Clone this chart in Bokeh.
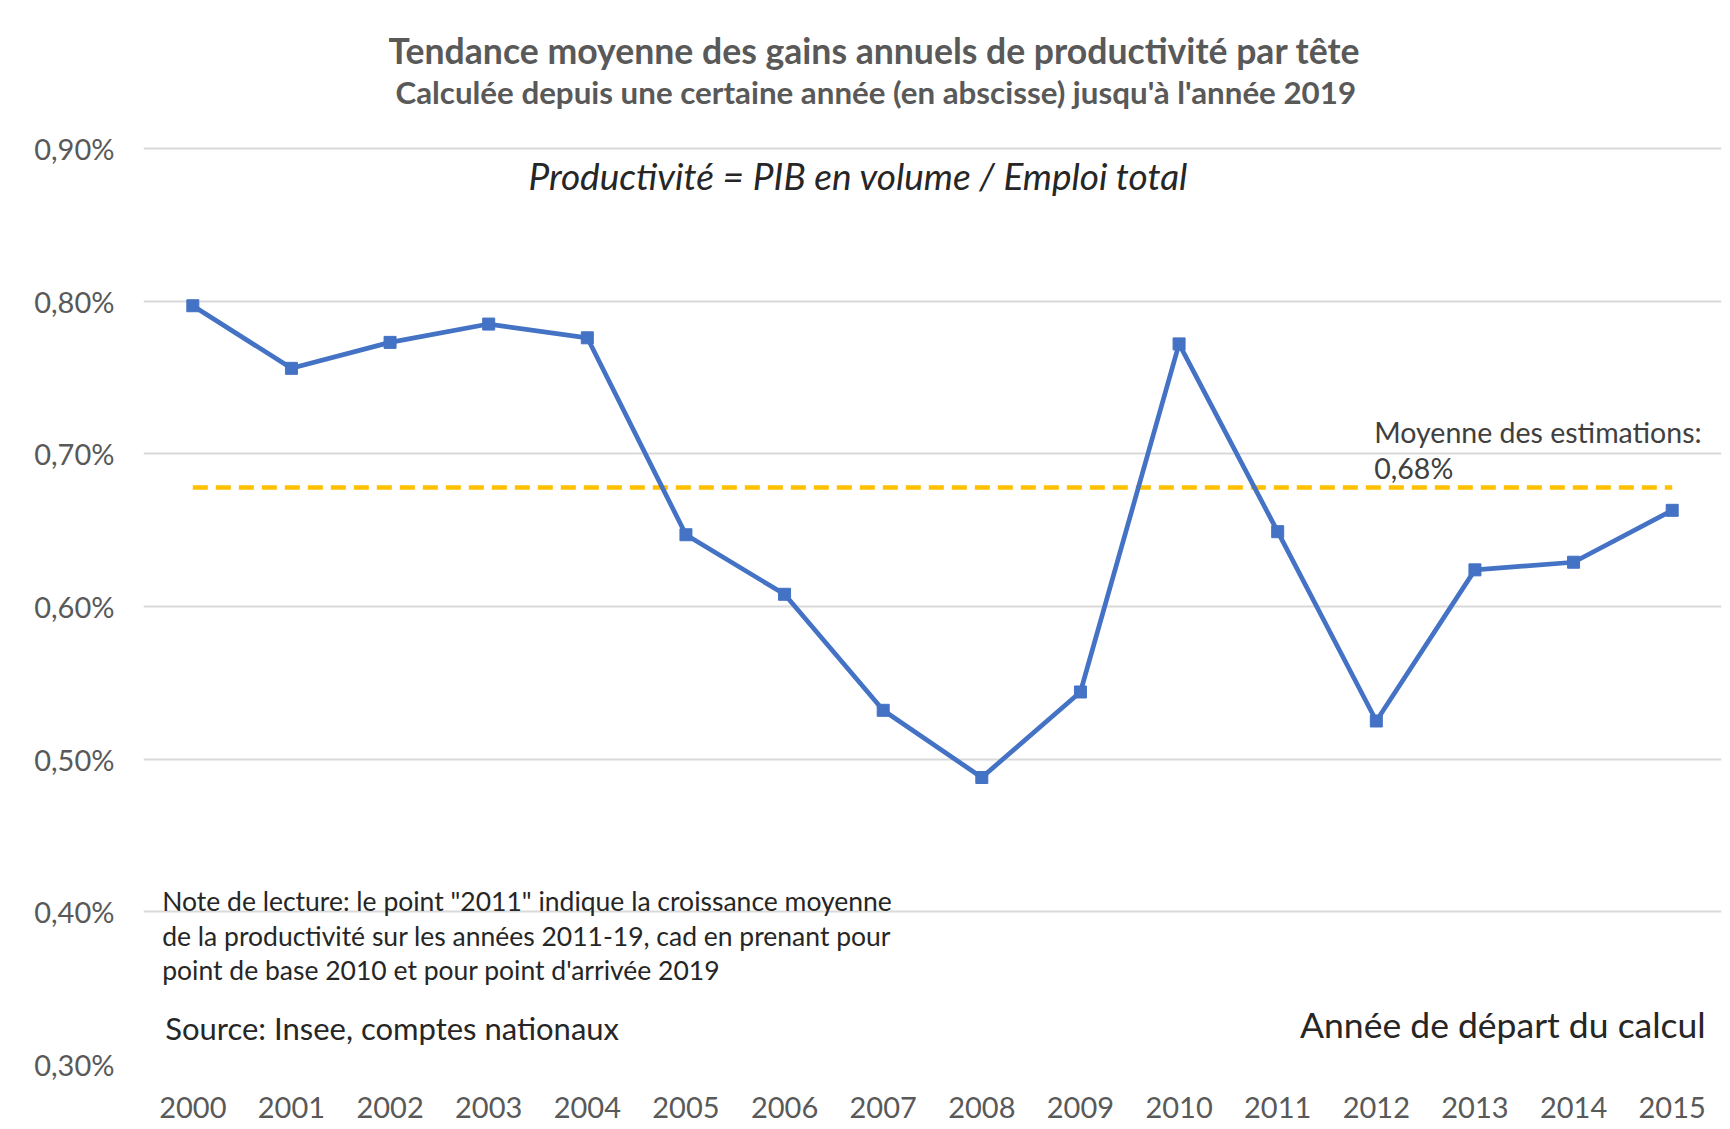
from bokeh.plotting import figure
from bokeh.models import Label, FixedTicker, CustomJSTickFormatter, ColumnDataSource
from bokeh.embed import file_html
from bokeh.resources import INLINE

years = [2000, 2001, 2002, 2003, 2004, 2005, 2006, 2007, 2008, 2009, 2010, 2011, 2012, 2013, 2014, 2015]
productivity = [0.797, 0.756, 0.773, 0.785, 0.776, 0.647, 0.608, 0.532, 0.488, 0.544, 0.772, 0.649, 0.525, 0.624, 0.629, 0.663]
average_value = 0.678
y_ticks = [0.30, 0.40, 0.50, 0.60, 0.70, 0.80, 0.90]

title_text = "Tendance moyenne des gains annuels de productivité par tête"
subtitle_text = "Calculée depuis une certaine année (en abscisse) jusqu'à l'année 2019"
formula_text = "Productivité = PIB en volume / Emploi total"
avg_label_lines = ["Moyenne des estimations:", "0,68%"]
note_lines = [
    'Note de lecture: le point "2011" indique la croissance moyenne',
    "de la productivité sur les années 2011-19, cad en prenant pour",
    "point de base 2010 et pour point d'arrivée 2019",
]
source_text = "Source:  Insee, comptes nationaux"
xaxis_text = "Année de départ du calcul"

FONT = "Lato"

# frame extends to the top of the canvas so the titles can be drawn inside it;
# gridlines/ticks stay at 0.30 .. 0.90
p = figure(width=1730, height=1129, output_backend="svg", toolbar_location=None, title=None,
           x_range=(1999.5, 2015.5), y_range=(0.30, 0.99694),
           min_border_left=143, min_border_right=9, min_border_top=0, min_border_bottom=65)
p.outline_line_color = None
p.background_fill_color = "white"
p.border_fill_color = "white"

# axes
p.xaxis.ticker = FixedTicker(ticks=years)
p.yaxis.ticker = FixedTicker(ticks=y_ticks)
p.yaxis.formatter = CustomJSTickFormatter(code="return tick.toFixed(2).replace('.', ',') + '%';")
for ax in (p.xaxis[0], p.yaxis[0]):
    ax.axis_line_color = None
    ax.major_tick_line_color = None
    ax.minor_tick_line_color = None
    ax.major_label_text_font = FONT
    ax.major_label_text_color = "#595959"
p.xaxis.major_label_text_font_size = "29px"
p.xaxis.major_label_standoff = 26
p.yaxis.major_label_text_font_size = "29px"
p.yaxis.major_label_standoff = 23

p.xgrid.grid_line_color = None
p.ygrid.ticker = FixedTicker(ticks=y_ticks)
p.ygrid.grid_line_color = "#D9D9D9"
p.ygrid.grid_line_width = 2

src = ColumnDataSource(dict(x=years, y=productivity, avg=[average_value] * len(years)))

# average dashed line
p.line("x", "avg", source=src, line_color="#FFC000", line_width=4.5, line_dash="15 8")

# main series
p.line("x", "y", source=src, line_color="#4472C4", line_width=4.7)
p.scatter("x", "y", source=src, marker="square", size=12, fill_color="#4472C4", line_color="#4472C4")

def add_label(x, y, text, size, color, align="left", style="normal", baseline="middle"):
    p.add_layout(Label(x=x, y=y, text=text, text_font=FONT, text_font_size=size,
                       text_color=color, text_align=align, text_baseline=baseline,
                       text_font_style=style))

add_label(2001.984, 0.9644, title_text, "35.6px", "#595959", style="bold")
add_label(2002.055, 0.9369, subtitle_text, "31.3px", "#595959", style="bold")
add_label(2006.75, 0.882, formula_text, "37px", "#262626", align="center", style="italic")
add_label(2011.98, 0.7146, avg_label_lines[0], "28.5px", "#404040")
add_label(2011.98, 0.691, avg_label_lines[1], "28.5px", "#404040")
for yy, line in zip([0.4074, 0.3839, 0.3616], note_lines):
    add_label(1999.69, yy, line, "26.5px", "#262626")
add_label(1999.72, 0.3236, source_text, "31px", "#262626")
add_label(2015.34, 0.3262, xaxis_text, "35.5px", "#262626", align="right")

open("out.html", "w").write(file_html(p, INLINE))
